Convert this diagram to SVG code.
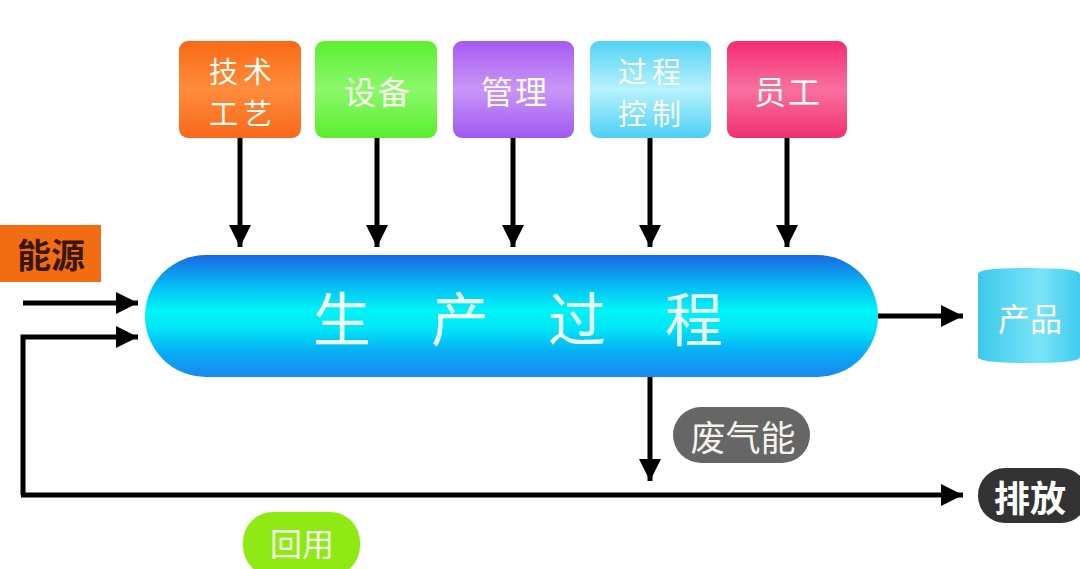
<svg xmlns="http://www.w3.org/2000/svg" width="1080" height="569" viewBox="0 0 1080 569">
<defs>
<style>
.cjk{font-family:"Noto Sans CJK SC","Noto Sans",sans-serif;text-anchor:middle;dominant-baseline:central}
.wt{fill:#fbfbf0;font-size:32px}
.two{font-size:29px;letter-spacing:5px}
.ln{stroke:#000;stroke-width:5;fill:none}
</style>
<marker id="ah" markerWidth="24" markerHeight="22" refX="22" refY="11" orient="auto" markerUnits="userSpaceOnUse">
<path d="M0,0 L22,11 L0,22 Z" fill="#000"/>
</marker>
<linearGradient id="gOr" x1="0" y1="0" x2="0" y2="1"><stop offset="0" stop-color="#f96a14"/><stop offset="0.5" stop-color="#ff8c3c"/><stop offset="1" stop-color="#f8681a"/></linearGradient>
<linearGradient id="gGr" x1="0" y1="0" x2="0" y2="1"><stop offset="0" stop-color="#5af030"/><stop offset="0.5" stop-color="#8cf86c"/><stop offset="1" stop-color="#58ee2c"/></linearGradient>
<linearGradient id="gPu" x1="0" y1="0" x2="0" y2="1"><stop offset="0" stop-color="#a65af2"/><stop offset="0.5" stop-color="#c896f6"/><stop offset="1" stop-color="#a058f2"/></linearGradient>
<linearGradient id="gCy" x1="0" y1="0" x2="0" y2="1"><stop offset="0" stop-color="#52d2f6"/><stop offset="0.5" stop-color="#b8f2fc"/><stop offset="1" stop-color="#4cd0f6"/></linearGradient>
<linearGradient id="gPk" x1="0" y1="0" x2="0" y2="1"><stop offset="0" stop-color="#f42c72"/><stop offset="0.5" stop-color="#f870a0"/><stop offset="1" stop-color="#f2306e"/></linearGradient>
<linearGradient id="gPill" x1="0" y1="0" x2="0" y2="1"><stop offset="0" stop-color="#1a68e4"/><stop offset="0.28" stop-color="#04c4f4"/><stop offset="0.45" stop-color="#00f4f6"/><stop offset="0.6" stop-color="#00e6f6"/><stop offset="0.8" stop-color="#08acf4"/><stop offset="1" stop-color="#1a88ee"/></linearGradient>
<linearGradient id="gCyl" x1="0" y1="0" x2="1" y2="0"><stop offset="0" stop-color="#3cc8ec"/><stop offset="0.6" stop-color="#7ae4f8"/><stop offset="1" stop-color="#40cced"/></linearGradient>
</defs>
<rect width="1080" height="569" fill="#ffffff"/>

<g id="connectors">
<line class="ln" x1="240" y1="138" x2="240" y2="247" marker-end="url(#ah)"/>
<line class="ln" x1="377" y1="138" x2="377" y2="247" marker-end="url(#ah)"/>
<line class="ln" x1="513" y1="138" x2="513" y2="247" marker-end="url(#ah)"/>
<line class="ln" x1="650" y1="138" x2="650" y2="247" marker-end="url(#ah)"/>
<line class="ln" x1="787" y1="138" x2="787" y2="247" marker-end="url(#ah)"/>
<line class="ln" x1="23" y1="303" x2="138" y2="303" marker-end="url(#ah)"/>
<polyline class="ln" points="23,495 23,337 138,337" marker-end="url(#ah)"/>
<line class="ln" x1="21" y1="495" x2="963" y2="495" marker-end="url(#ah)"/>
<line class="ln" x1="878" y1="316" x2="963" y2="316" marker-end="url(#ah)"/>
<line class="ln" x1="650" y1="377" x2="650" y2="481" marker-end="url(#ah)"/>
</g>

<g id="node-jishu">
<rect x="179" y="41" width="122" height="97" rx="9" fill="url(#gOr)"/>
<text class="cjk wt two"><tspan x="243" y="69.5">技术</tspan><tspan x="243" y="111.5">工艺</tspan></text>
</g>
<g id="node-shebei">
<rect x="315" y="41" width="122" height="97" rx="9" fill="url(#gGr)"/>
<text class="cjk wt" x="378" y="90" font-size="34" letter-spacing="2">设备</text>
</g>
<g id="node-guanli">
<rect x="453" y="41" width="121" height="97" rx="9" fill="url(#gPu)"/>
<text class="cjk wt" x="515" y="90" font-size="34" letter-spacing="2">管理</text>
</g>
<g id="node-guocheng">
<rect x="590" y="41" width="121" height="97" rx="9" fill="url(#gCy)"/>
<text class="cjk wt two" letter-spacing="2"><tspan x="652" y="69.5">过程</tspan><tspan x="652" y="111.5">控制</tspan></text>
</g>
<g id="node-yuangong">
<rect x="727" y="41" width="120" height="97" rx="9" fill="url(#gPk)"/>
<text class="cjk wt" x="788" y="90" font-size="34" letter-spacing="2">员工</text>
</g>

<g id="node-nengyuan">
<rect x="0" y="225" width="101" height="57" fill="#f26c12"/>
<text class="cjk" x="51" y="253" font-size="34" font-weight="bold" fill="#3a1608">能源</text>
</g>

<g id="node-process">
<rect x="145" y="255" width="733" height="122" rx="61" fill="url(#gPill)"/>
<text class="cjk" x="342" y="316" font-size="58" fill="#eafcfa">生</text>
<text class="cjk" x="460" y="316" font-size="58" fill="#eafcfa">产</text>
<text class="cjk" x="577" y="316" font-size="58" fill="#eafcfa">过</text>
<text class="cjk" x="694" y="316" font-size="58" fill="#eafcfa">程</text>
</g>

<g id="node-chanpin">
<path d="M978,274 Q978,268 1029,268 Q1080,268 1080,274 L1080,357 Q1080,363 1029,363 Q978,363 978,357 Z" fill="url(#gCyl)"/>
<text class="cjk wt" x="1030" y="317">产品</text>
</g>

<g id="node-feiqi">
<rect x="673" y="407" width="137" height="56" rx="28" fill="#666666"/>
<text class="cjk" x="743" y="435" font-size="35" fill="#f4f4ec">废气能</text>
</g>

<g id="node-paifang">
<rect x="978" y="468" width="110" height="55" rx="27" fill="#333333"/>
<text class="cjk" x="1030" y="496" font-size="36" font-weight="bold" fill="#ffffff">排放</text>
</g>

<g id="node-huiyong">
<rect x="243" y="512" width="117" height="64" rx="30" fill="#8eea12"/>
<text class="cjk" x="302" y="542" font-size="32" fill="#f4fbe8">回用</text>
</g>
</svg>
